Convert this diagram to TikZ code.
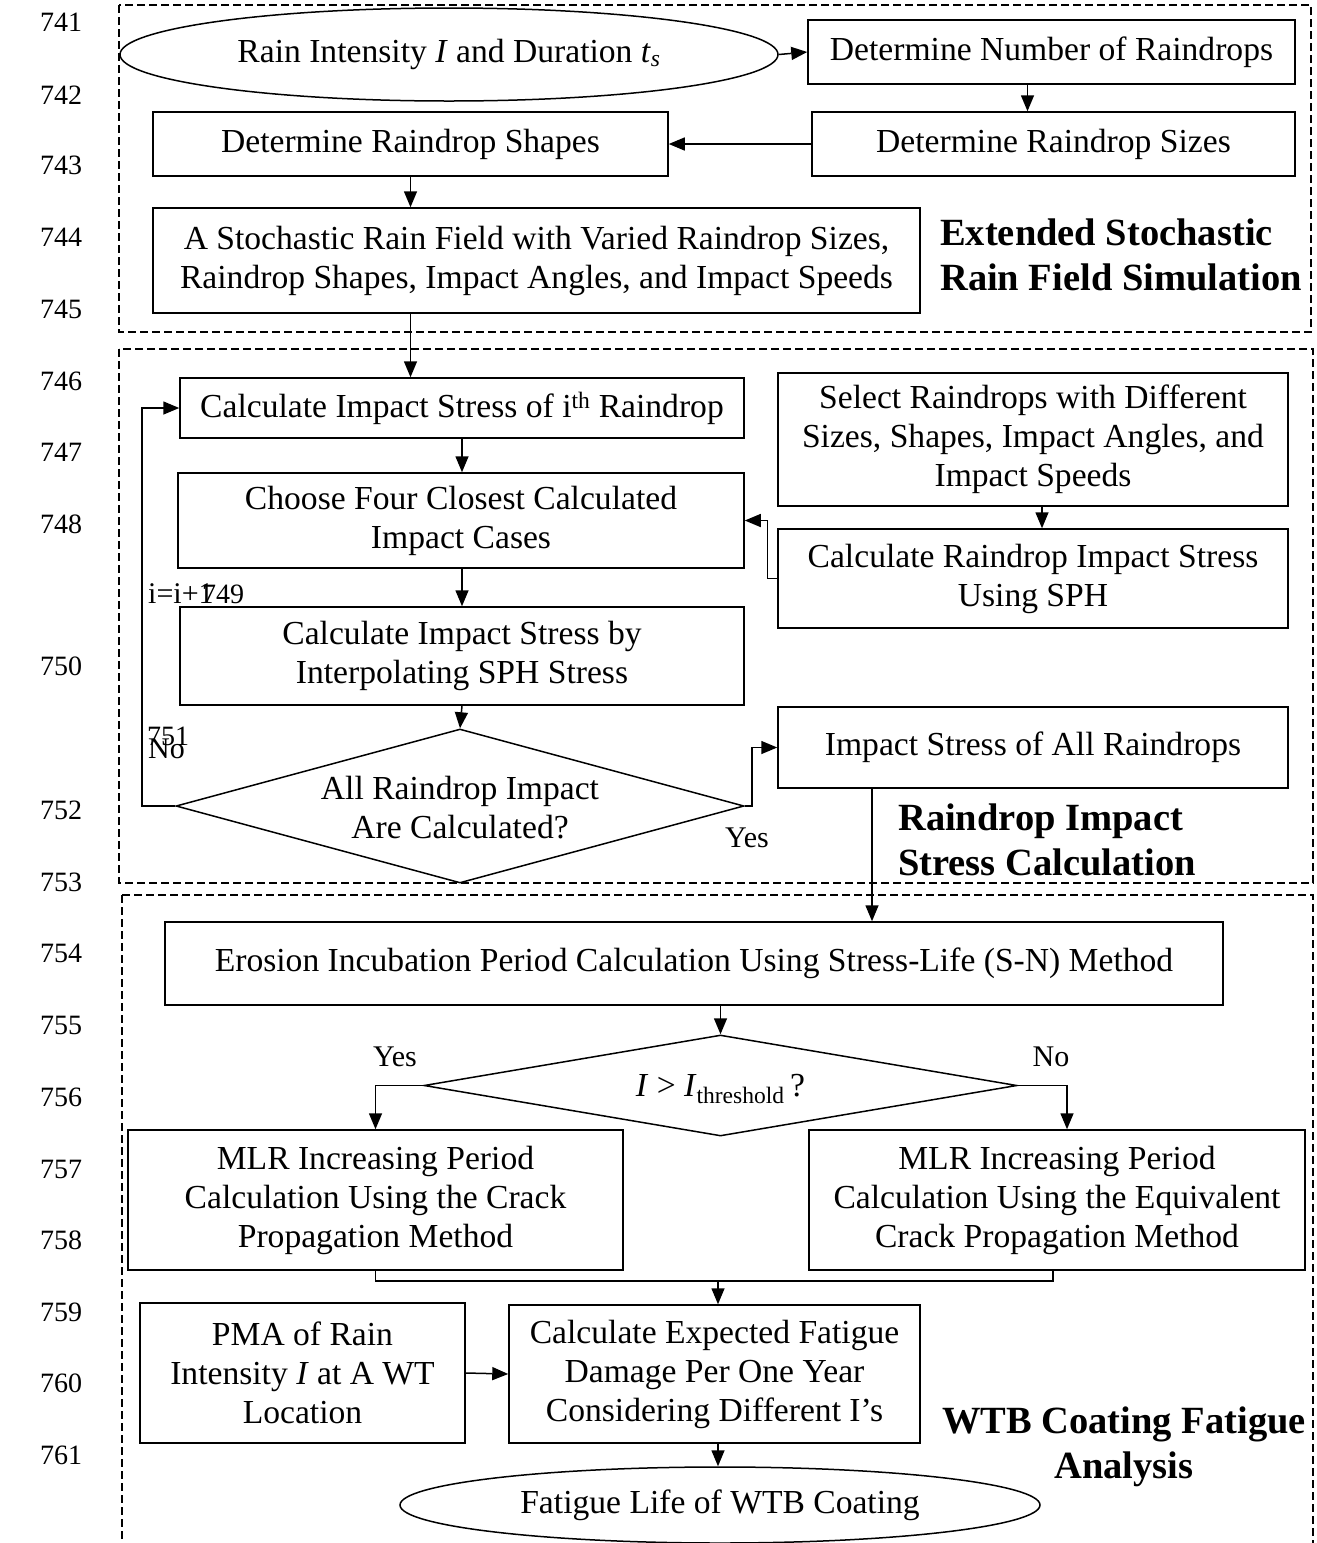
\documentclass[tikz,border=0pt]{standalone}
\usepackage{fontspec}
\setmainfont{Liberation Serif}
\usetikzlibrary{shapes.geometric,arrows.meta,calc}
\begin{document}
\begin{tikzpicture}[x=1pt,y=-1pt,
  txt/.style={font=\fontsize{33.6}{39}\selectfont, align=center, inner sep=0pt},
  box/.style={txt, draw, line width=1.5pt, rectangle},
  ell/.style={txt, draw, line width=1.5pt, ellipse},
  dia/.style={draw, line width=1.5pt, diamond, inner sep=0pt},
  arr/.style={line width=1.5pt, -{Triangle[length=16pt,width=13pt]}},
  conn/.style={line width=1.5pt},
  frame/.style={line width=2.6pt, dash pattern=on 8pt off 4pt},
  ttl/.style={font=\fontsize{38.5}{45}\selectfont\bfseries, inner sep=0pt},
  lab/.style={font=\fontsize{30}{34}\selectfont, inner sep=0pt},
  lnum/.style={font=\fontsize{28}{32}\selectfont, inner sep=0pt}]
\useasboundingbox (0,0) rectangle (1317,1543);

% dashed frames
\draw[frame] (119,5) rectangle (1311,332);
\draw[frame] (119,349) rectangle (1313,883);
\draw[frame] (122,895) -- (122,1560) (122,895) -- (1313,895) -- (1313,1560);

% line numbers
\foreach \n/\yy in {741/22,742/95,743/165,744/237,745/309,746/381,747/452,748/524,750/666,752/810,753/882,754/953,755/1025,756/1097,757/1169,758/1240,759/1312,760/1383,761/1455}
  \node[lnum] (ln\n) at (61,\yy) {\n};

% ---- section 1
\node[ell, minimum width=658, minimum height=93] (rain) at (449,54.5) {Rain Intensity \textit{I} and Duration \textit{t}\textsubscript{\textit{s}}};
\node[box, minimum width=487, minimum height=64] (num) at (1051.5,52) {Determine Number of Raindrops};
\node[box, minimum width=483, minimum height=64] (sizes) at (1053.5,144) {Determine Raindrop Sizes};
\node[box, minimum width=515, minimum height=64] (shapes) at (410.5,144) {Determine Raindrop Shapes};
\node[box, minimum width=767, minimum height=105] (stoch) at (536.5,260.5) {A Stochastic Rain Field with Varied Raindrop Sizes,\\Raindrop Shapes, Impact Angles, and Impact Speeds};
\node[ttl, anchor=west, align=left] (t1) at (940,254.5) {Extended Stochastic\\Rain Field Simulation};

\draw[arr] (rain.east) -- (num.west);
\draw[arr] ([xshift=-24]num.south) -- ([xshift=-24]num.south |- sizes.north);
\draw[arr] (sizes.west) -- (shapes.east);
\draw[arr] (shapes.south) -- (shapes.south |- stoch.north);

% ---- section 2
\node[box, minimum width=564, minimum height=60] (calc1) at (462,408) {Calculate Impact Stress of i\textsuperscript{th} Raindrop};
\node[box, minimum width=566, minimum height=95] (choose) at (461,520.5) {Choose Four Closest Calculated\\Impact Cases};
\node[box, minimum width=564, minimum height=98] (interp) at (462,656) {Calculate Impact Stress by\\Interpolating SPH Stress};
\node[dia, minimum width=568, minimum height=154] (d1) at (460,806) {};
\node[txt] (d1t) at (460,808) {All Raindrop Impact\\Are Calculated?};
\node[box, minimum width=510, minimum height=133] (sel) at (1033,439.5) {Select Raindrops with Different\\Sizes, Shapes, Impact Angles, and\\Impact Speeds};
\node[box, minimum width=510, minimum height=99] (sph) at (1033,578.5) {Calculate Raindrop Impact Stress\\Using SPH};
\node[box, minimum width=510, minimum height=81] (all) at (1033,747.5) {Impact Stress of All Raindrops};
\node[ttl, anchor=west, align=left] (t2) at (898,840) {Raindrop Impact\\Stress Calculation};

\draw[arr] (shapes.south |- stoch.south) -- (shapes.south |- calc1.north);
\draw[arr] (calc1.south) -- (calc1.south |- choose.north);
\draw[arr] (calc1.south |- choose.south) -- (calc1.south |- interp.north);
\draw[arr] (interp.south) -- (d1.north);
\coordinate (lp) at (142,806);
\draw[arr] (d1.west) -- (lp) |- (calc1.west);
\coordinate (yp) at (752,806);
\draw[arr] (d1.east) -- (yp) |- (all.west);
\draw[arr] ([xshift=9]sel.south) -- ([xshift=9]sel.south |- sph.north);
\draw[arr] (sph.west) -- ++(-10,0) |- (choose.east);

\node[lab, anchor=west] (inc) at (148,594) {i=i+1};
\node[lnum, anchor=west] (ln749) at (202,594) {749};
\node[lnum, anchor=west] (ln751) at (147,736) {751};
\node[lab, anchor=west] (no1) at (148,749) {No};
\node[lab, anchor=west] (yes1) at (725,838) {Yes};

% ---- section 3
\node[box, minimum width=1058, minimum height=83] (ero) at (694,963.5) {Erosion Incubation Period Calculation Using Stress-Life (S-N) Method};
\node[dia, minimum width=593, minimum height=101] (d2) at (720.5,1085.5) {};
\node[txt] (d2t) at (720.5,1089) {\textit{I} > \textit{I}\textsubscript{threshold}\,?};
\node[box, minimum width=495, minimum height=140] (mlr1) at (375.5,1200) {MLR Increasing Period\\Calculation Using the Crack\\Propagation Method};
\node[box, minimum width=496, minimum height=140] (mlr2) at (1057,1200) {MLR Increasing Period\\Calculation Using the Equivalent\\Crack Propagation Method};
\node[box, minimum width=325, minimum height=140] (pma) at (302.5,1373) {PMA of Rain\\Intensity \textit{I} at A WT\\Location};
\node[box, minimum width=411, minimum height=138] (calc2) at (714.5,1374) {Calculate Expected Fatigue\\Damage Per One Year\\Considering Different I’s};
\node[ell, minimum width=640, minimum height=76] (life) at (720,1505) {Fatigue Life of WTB Coating};
\node[ttl, align=center] (t3) at (1124,1446.5) {WTB Coating Fatigue\\Analysis};

\draw[arr] ([xshift=-161]all.south) -- ([xshift=-161]all.south |- ero.north);
\draw[arr] (ero.south -| d2.north) -- (d2.north);
\draw[arr] (d2.west) -| (mlr1.north);
\draw[arr] (d2.east) -| ([xshift=10]mlr2.north);
\coordinate (mg) at (718,1281);
\draw[conn] (mlr1.south) |- (mg) -| ([xshift=-4]mlr2.south);
\draw[arr] (mg) -- (mg |- calc2.north);
\draw[arr] (pma.east) -- (calc2.west);
\draw[arr] (calc2.south -| mg) -- (mg |- life.north);

\node[lab] (yes2) at (395,1057) {Yes};
\node[lab] (no2) at (1051,1057) {No};
\end{tikzpicture}
\end{document}
